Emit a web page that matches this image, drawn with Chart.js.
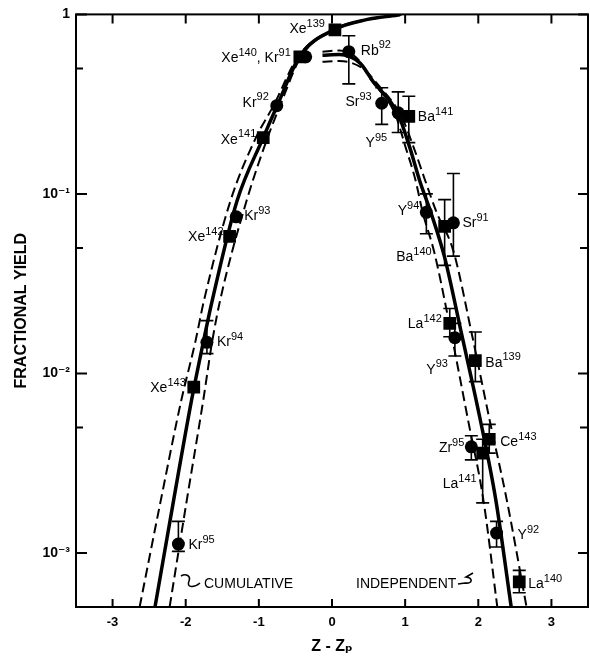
<!DOCTYPE html>
<html>
<head>
<meta charset="utf-8">
<script src="https://cdn.jsdelivr.net/npm/chart.js@4"></script>
<style>
  html, body { margin: 0; padding: 0; background: #fff; }
</style>
</head>
<body>
<canvas id="yieldChart" width="590" height="656"></canvas>
<script>
// Axis ticks
const ticksX = [-3, -2, -1, 0, 1, 2, 3];
const ticksYMajor = [1e-3, 1e-2, 1e-1, 1];
const ticksYMinor = [5e-3, 5e-2, 0.5];
const tickLabelsY = ['10⁻³', '10⁻²', '10⁻¹', '1'];

// Curves
const cumX   = [-2.42, -2.165, -1.92, -1.76, -1.637, -1.30, -0.94, -0.75, -0.44, 0.04, 0.47, 0.93];
const cumY   = [5e-4, 1.97e-3, 7.1e-3, 1.49e-2, 2.55e-2, 9.1e-2, 0.206, 0.31, 0.585, 0.826, 0.935, 0.995];
const cumLoX = [-2.63, -2.34, -2.06, -1.87, -1.75, -1.39, -1.04, -0.80, -0.46, 0.02, 0.46, 0.92];
const cumHiX = [-2.22, -1.985, -1.76, -1.64, -1.53, -1.17, -0.88, -0.71, -0.42, 0.06, 0.49, 0.95];
const cumDY  = [5e-4, 1.97e-3, 7.1e-3, 1.49e-2, 2.55e-2, 9.1e-2, 0.206, 0.31, 0.585, 0.826, 0.935, 0.995];

const indX   = [-0.13, 0.10, 0.38, 0.56, 0.905, 1.064, 1.20, 1.36, 1.54, 1.77, 2.02, 2.24, 2.45];
const indY   = [0.592, 0.598, 0.537, 0.424, 0.277, 0.181, 0.118, 0.077, 0.0443, 0.0167, 0.0057, 0.00197, 5e-4];
const indLoX = [-0.13, 0.10, 0.36, 0.52, 0.86, 1.01, 1.14, 1.24, 1.40, 1.63, 1.86, 2.07, 2.26];
const indLoY = [0.62, 0.63, 0.56, 0.44, 0.28, 0.18, 0.12, 0.079, 0.047, 0.0167, 0.0055, 0.00197, 5e-4];
const indHiX = [-0.13, 0.10, 0.42, 0.62, 0.95, 1.12, 1.27, 1.43, 1.66, 1.91, 2.155, 2.39, 2.66];
const indHiY = [0.545, 0.55, 0.50, 0.41, 0.27, 0.18, 0.12, 0.079, 0.048, 0.0167, 0.0055, 0.00197, 5e-4];

// Measured points: circles (Kr, Rb, Sr, Y, Zr)
const circleNames = ['', 'Kr^92', 'Kr^93', 'Kr^94', 'Kr^95', 'Rb^92', 'Sr^93', 'Y^95', 'Y^94', 'Sr^91', 'Y^93', 'Zr^95', 'Y^92'];
const circleX  = [-0.36, -0.755, -1.31, -1.71, -2.10, 0.23, 0.68, 0.905, 1.29, 1.66, 1.68, 1.905, 2.25];
const circleY  = [0.58, 0.31, 0.0745, 0.0149, 0.00112, 0.62, 0.32, 0.283, 0.079, 0.069, 0.0158, 0.0039, 0.00129];
const circleLo = [null, null, null, 0.0129, 0.00102, 0.41, 0.244, 0.22, 0.06, 0.045, 0.0125, 0.0033, 0.00108];
const circleHi = [null, null, null, 0.0197, 0.0015, 0.76, 0.39, 0.37, 0.1, 0.13, 0.019, 0.0045, 0.0015];

// Measured points: squares (Xe, Ba, La, Ce)
const squareNames = ['Xe^139', 'Xe^140, Kr^91', 'Xe^141', 'Xe^142', 'Xe^143', 'Ba^141', 'Ba^140', 'La^142', 'Ba^139', 'Ce^143', 'La^141', 'La^140'];
const squareX  = [0.04, -0.44, -0.94, -1.40, -1.89, 1.05, 1.54, 1.61, 1.96, 2.15, 2.06, 2.56];
const squareY  = [0.82, 0.58, 0.206, 0.058, 0.0084, 0.27, 0.066, 0.019, 0.0118, 0.0043, 0.0036, 0.00069];
const squareLo = [null, null, null, null, null, 0.193, 0.04, 0.016, 0.009, 0.0036, 0.0019, 0.0006];
const squareHi = [null, null, null, null, null, 0.35, 0.093, 0.023, 0.017, 0.0052, 0.0043, 0.0008];

// label placement (pixel offset from the point, text alignment)
const circleLabelPos = [null, [-8, 1, 'right'], [8, 3, 'left'], [10, 4, 'left'], [10, 5, 'left'], [12, 3, 'left'],
  [-10, 3, 'right'], [-11, 34, 'right'], [-7, 3, 'right'], [9, 4, 'left'], [-7, 36, 'right'], [-7, 5, 'right'], [21, 6, 'left']];
const squareLabelPos = [[-10, 3, 'right'], [-9, 5, 'right'], [-7, 6, 'right'], [-6, 5, 'right'], [-8, 5, 'right'],
  [9, 5, 'left'], [-13, 35, 'right'], [-8, 5, 'right'], [10, 6, 'left'], [11, 7, 'left'], [-6, 35, 'right'], [9, 6, 'left']];

const FONT = '"Liberation Sans", "DejaVu Sans", sans-serif';
Chart.defaults.font.family = FONT;
Chart.defaults.color = '#000';

const pts = (xs, ys) => xs.map((x, i) => ({ x: x, y: ys[i] }));

function lineSet(data, width, dash) {
  return {
    data: data,
    showLine: true,
    borderColor: '#000',
    borderWidth: width,
    borderDash: dash,
    pointRadius: 0,
    cubicInterpolationMode: 'monotone',
    fill: false
  };
}

// rich text with superscripts, e.g. "Kr^92"
function drawRich(ctx, text, x, y, align, size) {
  const parts = [];
  text.split(/(\^\d+)/).forEach(s => {
    if (!s) return;
    if (s[0] === '^') parts.push({ t: s.slice(1), sup: true });
    else parts.push({ t: s, sup: false });
  });
  const base = size + 'px ' + FONT;
  const small = Math.round(size * 0.75) + 'px ' + FONT;
  let w = 0;
  parts.forEach(p => { ctx.font = p.sup ? small : base; p.w = ctx.measureText(p.t).width; w += p.w; });
  let cx = align === 'right' ? x - w : x;
  ctx.textAlign = 'left';
  ctx.textBaseline = 'alphabetic';
  parts.forEach(p => {
    ctx.font = p.sup ? small : base;
    ctx.fillText(p.t, cx, p.sup ? y - size * 0.45 : y);
    cx += p.w;
  });
}

const errorBars = {
  id: 'errorBars',
  afterDatasetsDraw(chart) {
    const ctx = chart.ctx;
    const xs = chart.scales.x, ys = chart.scales.y;
    const sets = [[circleX, circleLo, circleHi], [squareX, squareLo, squareHi]];
    ctx.save();
    ctx.strokeStyle = '#000';
    ctx.lineWidth = 1.6;
    sets.forEach(([xv, lo, hi]) => {
      xv.forEach((x, i) => {
        if (lo[i] == null) return;
        const px = xs.getPixelForValue(x);
        const y1 = ys.getPixelForValue(lo[i]), y2 = ys.getPixelForValue(hi[i]);
        ctx.beginPath();
        ctx.moveTo(px, y1); ctx.lineTo(px, y2);
        ctx.moveTo(px - 6.5, y1); ctx.lineTo(px + 6.5, y1);
        ctx.moveTo(px - 6.5, y2); ctx.lineTo(px + 6.5, y2);
        ctx.stroke();
      });
    });
    ctx.restore();
  }
};

const pointLabels = {
  id: 'pointLabels',
  afterDatasetsDraw(chart) {
    const ctx = chart.ctx;
    const xs = chart.scales.x, ys = chart.scales.y;
    ctx.save();
    ctx.fillStyle = '#000';
    const put = (names, xv, yv, pos) => names.forEach((n, i) => {
      if (!n || !pos[i]) return;
      const px = xs.getPixelForValue(xv[i]), py = ys.getPixelForValue(yv[i]);
      drawRich(ctx, n, px + pos[i][0], py + pos[i][1], pos[i][2], 14);
    });
    put(circleNames, circleX, circleY, circleLabelPos);
    put(squareNames, squareX, squareY, squareLabelPos);

    // curve captions
    ctx.font = '14px ' + FONT;
    ctx.textAlign = 'left';
    ctx.fillText('CUMULATIVE', 204, 588);
    ctx.fillText('INDEPENDENT', 356, 588);
    ctx.lineWidth = 1.6;
    ctx.strokeStyle = '#000';
    ctx.beginPath();
    ctx.moveTo(200, 583);
    ctx.bezierCurveTo(194, 588, 186, 588, 189, 581);
    ctx.bezierCurveTo(191, 576, 186, 573, 181, 576);
    ctx.stroke();
    ctx.beginPath();
    ctx.moveTo(458, 584);
    ctx.lineTo(465, 583);
    ctx.bezierCurveTo(473, 584, 473, 578, 466, 577);
    ctx.lineTo(473, 573);
    ctx.stroke();
    ctx.restore();
  }
};

// frame with ticks pointing inward on all four sides
const frameTicks = {
  id: 'frameTicks',
  afterDraw(chart) {
    const ctx = chart.ctx;
    const a = chart.chartArea;
    const xs = chart.scales.x, ys = chart.scales.y;
    ctx.save();
    ctx.strokeStyle = '#000';
    ctx.lineWidth = 2;
    ctx.strokeRect(a.left, a.top, a.right - a.left, a.bottom - a.top);
    ctx.beginPath();
    ticksX.forEach(v => {
      const px = xs.getPixelForValue(v);
      ctx.moveTo(px, a.bottom); ctx.lineTo(px, a.bottom - 8);
      ctx.moveTo(px, a.top); ctx.lineTo(px, a.top + 9);
    });
    ticksYMajor.forEach(v => {
      const py = ys.getPixelForValue(v);
      ctx.moveTo(a.left, py); ctx.lineTo(a.left + 11, py);
      ctx.moveTo(a.right, py); ctx.lineTo(a.right - 10, py);
    });
    ticksYMinor.forEach(v => {
      const py = ys.getPixelForValue(v);
      ctx.moveTo(a.left, py); ctx.lineTo(a.left + 7, py);
      ctx.moveTo(a.right, py); ctx.lineTo(a.right - 8, py);
    });
    ctx.stroke();
    ctx.restore();
  }
};

new Chart(document.getElementById('yieldChart'), {
  type: 'scatter',
  data: {
    datasets: [
      lineSet(pts(cumX, cumY), 3.5, []),
      lineSet(pts(cumLoX, cumDY), 2, [10, 5]),
      lineSet(pts(cumHiX, cumDY), 2, [10, 5]),
      lineSet(pts(indX, indY), 3.5, []),
      lineSet(pts(indLoX, indLoY), 2, [10, 5]),
      lineSet(pts(indHiX, indHiY), 2, [10, 5]),
      {
        data: pts(circleX, circleY),
        pointStyle: 'circle',
        pointRadius: 6.5,
        backgroundColor: '#000',
        borderColor: '#000',
        borderWidth: 0
      },
      {
        data: pts(squareX, squareY),
        pointStyle: 'rect',
        pointRadius: 9,
        backgroundColor: '#000',
        borderColor: '#000',
        borderWidth: 0
      }
    ]
  },
  options: {
    responsive: false,
    animation: false,
    devicePixelRatio: 1,
    events: [],
    layout: { autoPadding: false, padding: { top: 14, right: 2, left: 0, bottom: 0 } },
    plugins: {
      legend: { display: false },
      tooltip: { enabled: false }
    },
    scales: {
      x: {
        type: 'linear',
        min: -3.5,
        max: 3.5,
        afterBuildTicks: s => { s.ticks = ticksX.map(v => ({ value: v })); },
        afterFit: s => { s.height = 49; },
        grid: { display: false, drawTicks: false },
        border: { display: false },
        ticks: {
          padding: 8,
          font: { size: 13, weight: 'bold' },
          callback: v => String(v)
        },
        title: {
          display: true,
          text: 'Z - Zₚ',
          font: { size: 16, weight: 'bold' },
          padding: { top: 0, bottom: 0 }
        }
      },
      y: {
        type: 'logarithmic',
        min: 5e-4,
        max: 1,
        afterBuildTicks: s => { s.ticks = ticksYMajor.map(v => ({ value: v })); },
        afterFit: s => { s.width = 76; },
        grid: { display: false, drawTicks: false },
        border: { display: false },
        ticks: {
          padding: 6,
          font: { size: 14, weight: 'bold' },
          callback: v => {
            const i = ticksYMajor.findIndex(t => Math.abs(t - v) / t < 1e-6);
            return i >= 0 ? tickLabelsY[i] : '';
          }
        },
        title: {
          display: true,
          text: 'FRACTIONAL YIELD',
          font: { size: 16, weight: 'bold' },
          padding: { top: 12, bottom: 0 }
        }
      }
    }
  },
  plugins: [errorBars, pointLabels, frameTicks]
});
</script>
</body>
</html>
